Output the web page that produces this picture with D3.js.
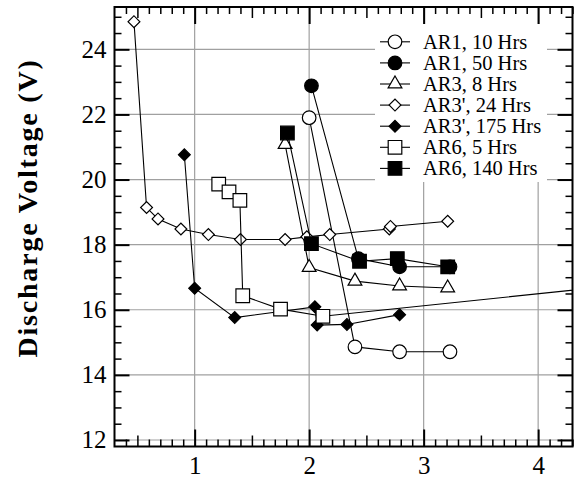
<!DOCTYPE html>
<html><head><meta charset="utf-8">
<script src="https://cdn.jsdelivr.net/npm/d3@7"></script>
<style>body{margin:0;background:#fff}svg{display:block}
text{font-family:"Liberation Serif","Times New Roman",Times,serif}</style>
</head><body><svg id="c" width="576" height="487"></svg>
<script>
// ---- data ----
const seriesNames = ["AR1, 10 Hrs","AR1, 50 Hrs","AR3, 8 Hrs","AR3', 24 Hrs","AR3', 175 Hrs","AR6, 5 Hrs","AR6, 140 Hrs"];
const ar1_10_x = [2.00, 2.40, 2.79, 3.23];
const ar1_10_y = [21.90, 14.86, 14.71, 14.71];
const ar1_50_x = [2.02, 2.43, 2.79, 3.23];
const ar1_50_y = [22.88, 17.57, 17.32, 17.32];
const ar3_8_x = [1.79, 2.00, 2.40, 2.79, 3.21];
const ar3_8_y = [21.08, 17.30, 16.88, 16.73, 16.67];
const ar3p_24_x = [0.47, 0.58, 0.68, 0.88, 1.12, 1.40, 1.79, 1.98, 2.18, 2.70, 2.71, 3.21];
const ar3p_24_y = [24.85, 19.14, 18.79, 18.48, 18.31, 18.16, 18.16, 18.24, 18.31, 18.48, 18.56, 18.72];
const ar3p_175_x = [0.91, 1.00, 1.35, 2.05, 2.07, 2.33, 2.79];
const ar3p_175_y = [20.76, 16.66, 15.76, 16.09, 15.53, 15.55, 15.85];
const ar6_5_x = [1.21, 1.30, 1.395, 1.42, 1.75, 2.12, 5.00];
const ar6_5_y = [19.86, 19.62, 19.36, 16.43, 16.02, 15.80, 16.86];
const ar6_140_x = [1.81, 2.02, 2.44, 2.77, 3.21];
const ar6_140_y = [21.43, 18.03, 17.49, 17.57, 17.32];
const xTicks = [1, 2, 3, 4];
const yTicks = [12, 14, 16, 18, 20, 22, 24];

const seriesX = [ar1_10_x, ar1_50_x, ar3_8_x, ar3p_24_x, ar3p_175_x, ar6_5_x, ar6_140_x];
const seriesY = [ar1_10_y, ar1_50_y, ar3_8_y, ar3p_24_y, ar3p_175_y, ar6_5_y, ar6_140_y];
const markerType = ["circle","circle","triangle","diamond","diamond","square","square"];
const markerFill = ["#fff","#000","#fff","#fff","#000","#fff","#000"];

// ---- layout ----
const L = 114.5, R = 572.5, T = 7, B = 446.5;
const x = d3.scaleLinear().domain([0.3, 4.3]).range([L, R]);
const y = d3.scaleLinear().domain([11.8, 25.3]).range([B, T]);
const svg = d3.select("#c");

svg.append("defs").append("clipPath").attr("id","clip")
  .append("rect").attr("x",L).attr("y",T).attr("width",R-L).attr("height",B-T);

// grid
const grid = svg.append("g").attr("stroke","#a0a0a0").attr("stroke-width",1.2);
grid.selectAll(".gx").data(xTicks).join("line")
  .attr("x1",d=>x(d)).attr("x2",d=>x(d)).attr("y1",T).attr("y2",B);
grid.selectAll(".gy").data(yTicks).join("line")
  .attr("x1",L).attr("x2",R).attr("y1",d=>y(d)).attr("y2",d=>y(d));

// legend box (white, hides grid)
const lg = svg.append("g");
lg.append("rect").attr("x",375).attr("y",24).attr("width",172).attr("height",158).attr("fill","#fff");

function symbolPath(type){
  if(type==="circle") return d3.symbol(d3.symbolCircle, 145)();
  if(type==="square") return d3.symbol(d3.symbolSquare, 185)();
  if(type==="triangle") return d3.symbol(d3.symbolTriangle, 82)();
  return d3.symbol(d3.symbolSquare, 70)();
}
function drawMarker(g, type, fill, px, py){
  g.append("path").attr("d", symbolPath(type))
    .attr("transform", `translate(${px},${py})` + (type==="diamond" ? " rotate(45)" : ""))
    .attr("fill", fill).attr("stroke","#000").attr("stroke-width",1.2);
}

// series
const plot = svg.append("g").attr("clip-path","url(#clip)");
const line = d3.line().x(d=>x(d[0])).y(d=>y(d[1]));
seriesNames.forEach((name,i)=>{
  const pts = seriesX[i].map((v,j)=>[v, seriesY[i][j]]);
  const g = plot.append("g");
  g.append("path").attr("d", line(pts)).attr("fill","none").attr("stroke","#000").attr("stroke-width",1.1);
  pts.forEach(p=>drawMarker(g, markerType[i], markerFill[i], x(p[0]), y(p[1])));
});

// legend entries
seriesNames.forEach((name,i)=>{
  const cy = 41.8 + i*21.1;
  lg.append("line").attr("x1",380).attr("x2",410).attr("y1",cy).attr("y2",cy).attr("stroke","#000").attr("stroke-width",1.1);
  drawMarker(lg, markerType[i], markerFill[i], 395, cy);
  lg.append("text").attr("x",423).attr("y",cy).attr("dy","0.33em")
    .attr("font-size",20.5).text(name);
});

// axes
function styleAx(g, w){ g.select(".domain").remove(); g.selectAll("line").attr("stroke","#000").attr("stroke-width",w); }
const xMinor = d3.range(4, 44).map(d=>d/10).filter(d=>Math.abs(d-Math.round(d))>1e-6 && Math.abs(d*2-Math.round(d*2))>1e-6);
const xMed = [0.5,1.5,2.5,3.5];
const yMinor = d3.range(24, 51).map(d=>d/2).filter(d=>d%2!==0);

function styleText(g){ g.selectAll("text").attr("font-size",25).attr("fill","#000"); }
// bottom
svg.append("g").attr("transform",`translate(0,${B})`).call(d3.axisBottom(x).tickValues(xMinor).tickSize(-7).tickFormat("")).call(g=>styleAx(g,1.5));
svg.append("g").attr("transform",`translate(0,${B})`).call(d3.axisBottom(x).tickValues(xMed).tickSize(-11).tickFormat("")).call(g=>styleAx(g,1.5));
svg.append("g").attr("transform",`translate(0,${B})`).call(d3.axisBottom(x).tickValues(xTicks).tickSize(-17).tickPadding(10).tickFormat(d3.format("d")))
  .call(g=>{styleAx(g,2); g.attr("font-family",null); styleText(g);});
// top
svg.append("g").attr("transform",`translate(0,${T})`).call(d3.axisTop(x).tickValues(xMinor).tickSize(-7).tickFormat("")).call(g=>styleAx(g,1.5));
svg.append("g").attr("transform",`translate(0,${T})`).call(d3.axisTop(x).tickValues(xMed).tickSize(-11).tickFormat("")).call(g=>styleAx(g,1.5));
svg.append("g").attr("transform",`translate(0,${T})`).call(d3.axisTop(x).tickValues(xTicks).tickSize(-17).tickFormat("")).call(g=>styleAx(g,2));
// left
svg.append("g").attr("transform",`translate(${L},0)`).call(d3.axisLeft(y).tickValues(yMinor).tickSize(-7).tickFormat("")).call(g=>styleAx(g,1.5));
svg.append("g").attr("transform",`translate(${L},0)`).call(d3.axisLeft(y).tickValues(yTicks).tickSize(-15).tickPadding(8).tickFormat(d3.format("d")))
  .call(g=>{styleAx(g,2); g.attr("font-family",null); styleText(g);});
// right
svg.append("g").attr("transform",`translate(${R},0)`).call(d3.axisRight(y).tickValues(yMinor).tickSize(-7).tickFormat("")).call(g=>styleAx(g,1.5));
svg.append("g").attr("transform",`translate(${R},0)`).call(d3.axisRight(y).tickValues(yTicks).tickSize(-15).tickFormat("")).call(g=>styleAx(g,2));

// frame
svg.append("rect").attr("x",L).attr("y",T).attr("width",R-L).attr("height",B-T)
  .attr("fill","none").attr("stroke","#000").attr("stroke-width",2);

// y label
svg.append("text").attr("transform",`translate(37,208) rotate(-90)`)
  .attr("text-anchor","middle").attr("font-weight","bold")
  .attr("font-size",28).attr("letter-spacing",1.8).text("Discharge Voltage (V)");
</script></body></html>
